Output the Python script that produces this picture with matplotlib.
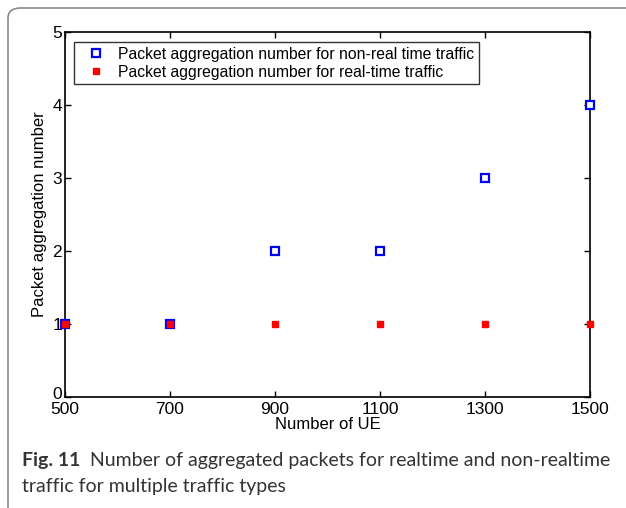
import matplotlib.pyplot as plt
import matplotlib.transforms as mtransforms
from matplotlib.patches import FancyBboxPatch

# data
num_ue = [500, 700, 900, 1100, 1300, 1500]
non_realtime = [1, 1, 2, 2, 3, 4]
realtime = [1, 1, 1, 1, 1, 1]
x_ticks = [500, 700, 900, 1100, 1300, 1500]
y_ticks = [0, 1, 2, 3, 4, 5]

plt.rcParams["font.family"] = ["Liberation Sans", "DejaVu Sans"]

fig = plt.figure(figsize=(6.26, 5.08), dpi=100)

# gray rounded frame around figure + caption
frame = FancyBboxPatch((8 / 626, -0.2), 1.2, 1.2 - 8 / 508,
                       boxstyle="round,pad=0,rounding_size=0.02",
                       transform=fig.transFigure, facecolor="none",
                       edgecolor="#8a8a8a", linewidth=1.2)
fig.patches.append(frame)

ax = fig.add_axes([65 / 626, 1 - 397 / 508, 525 / 626, 365 / 508])

ax.plot(num_ue, non_realtime, linestyle="none", marker="s", markersize=5.5,
        markerfacecolor="white", markeredgecolor="#0000ff", markeredgewidth=1.6,
        clip_on=False, zorder=3,
        label="Packet aggregation number for non-real time traffic")
ax.plot(num_ue, realtime, linestyle="none", marker="s", markersize=4.3,
        markerfacecolor="#ff0000", markeredgecolor="#ff0000",
        clip_on=False, zorder=4,
        label="Packet aggregation number for real-time traffic")

ax.set_xlim(500, 1500)
ax.set_ylim(0, 5)
ax.set_xticks(x_ticks)
ax.set_yticks(y_ticks)
ax.tick_params(direction="in", top=True, right=True, labelsize=12.5, length=4,
               width=1, pad=2)
ax.tick_params(axis="x", pad=3.5)
for s in ax.spines.values():
    s.set_linewidth(1.2)

# nudge the "0" label up a little so it clears "500"
zero_lbl = ax.get_yticklabels()[0]
zero_lbl.set_transform(zero_lbl.get_transform() +
                       mtransforms.ScaledTranslation(0, 3 / 72, fig.dpi_scale_trans))

ax.set_xlabel("Number of UE", fontsize=12, labelpad=0)
ax.set_ylabel("Packet aggregation number", fontsize=12, labelpad=4)

leg = ax.legend(loc="upper left", bbox_to_anchor=(0.017, 0.973), fontsize=11.3,
                frameon=True, fancybox=False, edgecolor="black",
                borderpad=0.3, handletextpad=0.3, labelspacing=0.2,
                handlelength=2.2, borderaxespad=0)
leg.get_frame().set_linewidth(1)

# caption
cap_color = "#333333"
cap_font = ["Lato", "DejaVu Sans"]
fig.text(22 / 626, 1 - 466 / 508, "Fig. 11", fontsize=14, fontweight="bold",
         color=cap_color, family=cap_font, va="baseline")
fig.text(90 / 626, 1 - 466 / 508,
         "Number of aggregated packets for realtime and non-realtime",
         fontsize=14, color=cap_color, family=cap_font, va="baseline")
fig.text(22 / 626, 1 - 492 / 508, "traffic for multiple traffic types",
         fontsize=14, color=cap_color, family=cap_font, va="baseline")

fig.savefig("out.png", dpi=100)
